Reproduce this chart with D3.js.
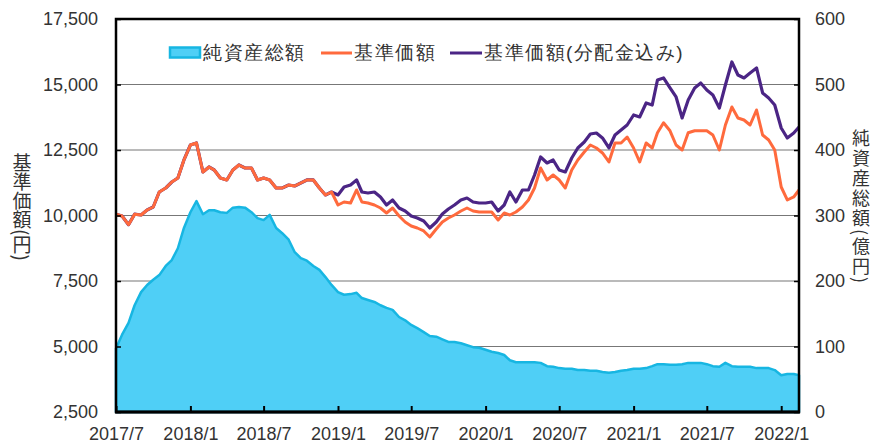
<!DOCTYPE html>
<html><head><meta charset="utf-8">
<script src="https://cdn.jsdelivr.net/npm/d3@7"></script>
<style>
body{margin:0;background:#fff;}
svg{display:block;}
text{font-family:"Liberation Sans",Arial,sans-serif;fill:#333;}
.jp{font-family:"Noto Sans CJK JP",sans-serif;}
</style></head><body>
<svg id="c" width="874" height="442"></svg>
<script>
// semi-monthly sampling dates (1st and 16th), 2017/7/1 .. 2022/2/14
const dates = [];
for (let y = 2017, m = 6; y < 2022 || (y === 2022 && m <= 1); m++) {
  if (m > 11) { m = 0; y++; }
  dates.push(new Date(y, m, 1));
  dates.push(new Date(y, m, (y === 2022 && m === 1) ? 14 : 16));
}
const navLabel = "基準価額";
const navDivLabel = "基準価額(分配金込み)";
const assetsLabel = "純資産総額";
const leftTicks = [2500, 5000, 7500, 10000, 12500, 15000, 17500];
const rightTicks = [0, 100, 200, 300, 400, 500, 600];
const xTickDates = ["2017-07-01","2018-01-01","2018-07-01","2019-01-01","2019-07-01","2020-01-01","2020-07-01","2021-01-01","2021-07-01","2022-01-01"];
const xTickLabels = ["2017/7","2018/1","2018/7","2019/1","2019/7","2020/1","2020/7","2021/1","2021/7","2022/1"];

// 基準価額 (円)
const nav = [10050,9980,9650,10050,10020,10210,10325,10897,11050,11279,11430,12119,12691,12768,11661,11852,11737,11432,11356,11737,11928,11813,11813,11356,11432,11356,11050,11050,11164,11126,11241,11356,11356,11050,10783,10897,10401,10516,10477,10974,10516,10477,10401,10286,10096,10286,9981,9752,9600,9523,9409,9180,9485,9752,9905,10020,10172,10286,10172,10134,10134,10134,9829,10096,10020,10134,10325,10592,11050,11813,11356,11546,11356,11050,11737,12119,12424,12691,12577,12386,12043,12768,12768,12997,12577,12043,12768,12577,13157,13539,13233,12691,12500,13157,13233,13233,13233,13073,12500,13454,14142,13722,13646,13454,14027,13073,12882,12500,11088,10592,10707,10974];
// 基準価額(分配金込み) (円)
const navDiv = [10050,9980,9650,10050,10020,10210,10325,10897,11050,11279,11430,12119,12691,12768,11661,11852,11737,11432,11356,11737,11928,11813,11813,11356,11432,11356,11050,11050,11164,11126,11241,11356,11356,11050,10783,10897,10783,11088,11164,11356,10897,10859,10897,10706,10401,10592,10286,10172,9981,9905,9790,9523,9752,10058,10248,10401,10592,10668,10516,10477,10477,10516,10172,10401,10897,10516,10974,10974,11546,12233,12004,12119,11737,11661,12195,12577,12806,13111,13149,12959,12577,13073,13264,13454,13836,13760,14294,14218,15172,15249,14867,14524,13722,14409,14867,15058,14791,14600,14104,14981,15859,15363,15249,15440,15630,14676,14485,14218,13340,12959,13149,13378];
// 純資産総額 (億円)
const assets = [97,118,136,163,183,194,202,209,223,232,250,281,305,322,302,308,308,305,304,312,313,312,305,296,293,301,281,273,263,244,235,231,223,217,206,194,183,179,180,182,174,171,168,163,159,156,145,140,133,128,122,116,115,111,107,107,105,102,99,98,95,92,90,87,79,76,76,76,76,75,70,69,67,66,66,64,64,63,63,61,60,61,63,64,66,66,67,70,73,73,72,72,73,75,75,75,73,70,69,75,70,69,69,69,67,67,67,64,56,58,58,56];

const svg = d3.select("#c");
const L = 116, R = 799, T = 19, B = 412;
const x = d3.scaleTime().domain([new Date(2017,6,1), new Date(2022,1,14)]).range([L, R]);
const yL = d3.scaleLinear().domain([2500, 17500]).range([B, T]);
const yR = d3.scaleLinear().domain([0, 600]).range([B, T]);

// gridlines
svg.append("g").selectAll("line").data(leftTicks.slice(1, -1)).join("line")
  .attr("x1", L).attr("x2", R).attr("y1", d => yL(d)).attr("y2", d => yL(d))
  .attr("stroke", "#777").attr("stroke-width", 1.2);

// area
const area = d3.area().x((d, i) => x(dates[i])).y0(B).y1(d => yR(d));
svg.append("path").datum(assets).attr("d", area).attr("fill", "#4FCFF6")
  .attr("stroke", "#17B6E2").attr("stroke-width", 2.5).attr("stroke-linejoin", "round");

const line = sc => d3.line().x((d, i) => x(dates[i])).y(d => sc(d));
svg.append("path").datum(navDiv).attr("d", line(yL)).attr("fill", "none")
  .attr("stroke", "#4B2585").attr("stroke-width", 3.2).attr("stroke-linejoin", "round");
svg.append("path").datum(nav).attr("d", line(yL)).attr("fill", "none")
  .attr("stroke", "#FF6A3D").attr("stroke-width", 3).attr("stroke-linejoin", "round");

// frame
svg.append("rect").attr("x", L).attr("y", T).attr("width", R - L).attr("height", B - T)
  .attr("fill", "none").attr("stroke", "#000").attr("stroke-width", 2.5);
svg.append("line").attr("x1", L - 1).attr("x2", R + 1).attr("y1", B).attr("y2", B)
  .attr("stroke", "#000").attr("stroke-width", 3);

// axes
const xa = d3.axisBottom(x).tickValues(xTickDates.map(s => new Date(s + "T00:00:00")))
  .tickFormat((d, i) => xTickLabels[i]).tickSizeInner(-6).tickSizeOuter(0).tickPadding(14);
const gx = svg.append("g").attr("transform", `translate(0,${B})`).call(xa);
gx.select(".domain").remove();
gx.selectAll("line").attr("stroke", "#000").attr("stroke-width", 2);
gx.selectAll("text").attr("font-size", 18).attr("fill", "#333").attr("dy", "0.75em")
  .style("font-family", "'Liberation Sans',Arial,sans-serif");

const ya = d3.axisLeft(yL).tickValues(leftTicks).tickFormat(d3.format(",")).tickSizeInner(-5).tickSizeOuter(0).tickPadding(18);
const gy = svg.append("g").attr("transform", `translate(${L},0)`).call(ya);
gy.select(".domain").remove();
gy.selectAll("line").attr("stroke", "#000").attr("stroke-width", 1.5);
gy.selectAll("text").attr("font-size", 18).attr("fill", "#333")
  .style("font-family", "'Liberation Sans',Arial,sans-serif");

const yra = d3.axisRight(yR).tickValues(rightTicks).tickSizeInner(-5).tickSizeOuter(0).tickPadding(16);
const gyr = svg.append("g").attr("transform", `translate(${R},0)`).call(yra);
gyr.select(".domain").remove();
gyr.selectAll("line").attr("stroke", "#000").attr("stroke-width", 1.5);
gyr.selectAll("text").attr("font-size", 18).attr("fill", "#333")
  .style("font-family", "'Liberation Sans',Arial,sans-serif");

// axis titles (vertical)
svg.append("text").attr("class", "jp").attr("x", 22).attr("y", 207)
  .attr("text-anchor", "middle").style("writing-mode", "vertical-rl")
  .attr("font-size", 19).text("基準価額(円)");
svg.append("text").attr("class", "jp").attr("x", 861).attr("y", 207)
  .attr("text-anchor", "middle").style("writing-mode", "vertical-rl")
  .attr("font-size", 18).attr("letter-spacing", 2).text("純資産総額(億円)");

// legend
const lg = svg.append("g").attr("class", "jp");
lg.append("rect").attr("x", 170).attr("y", 47.5).attr("width", 30).attr("height", 10)
  .attr("fill", "#4FCFF6").attr("stroke", "#17B6E2").attr("stroke-width", 2.5);
lg.append("text").attr("x", 203).attr("y", 59).attr("font-size", 19).attr("letter-spacing", 1.5).text(assetsLabel);
lg.append("line").attr("x1", 321).attr("x2", 352).attr("y1", 53).attr("y2", 53)
  .attr("stroke", "#FF6A3D").attr("stroke-width", 3);
lg.append("text").attr("x", 354).attr("y", 59).attr("font-size", 19).attr("letter-spacing", 1.5).text(navLabel);
lg.append("line").attr("x1", 450).attr("x2", 482).attr("y1", 53).attr("y2", 53)
  .attr("stroke", "#4B2585").attr("stroke-width", 3);
lg.append("text").attr("x", 484).attr("y", 59).attr("font-size", 19).attr("letter-spacing", 1.5).text(navDivLabel);
</script>
</body></html>
